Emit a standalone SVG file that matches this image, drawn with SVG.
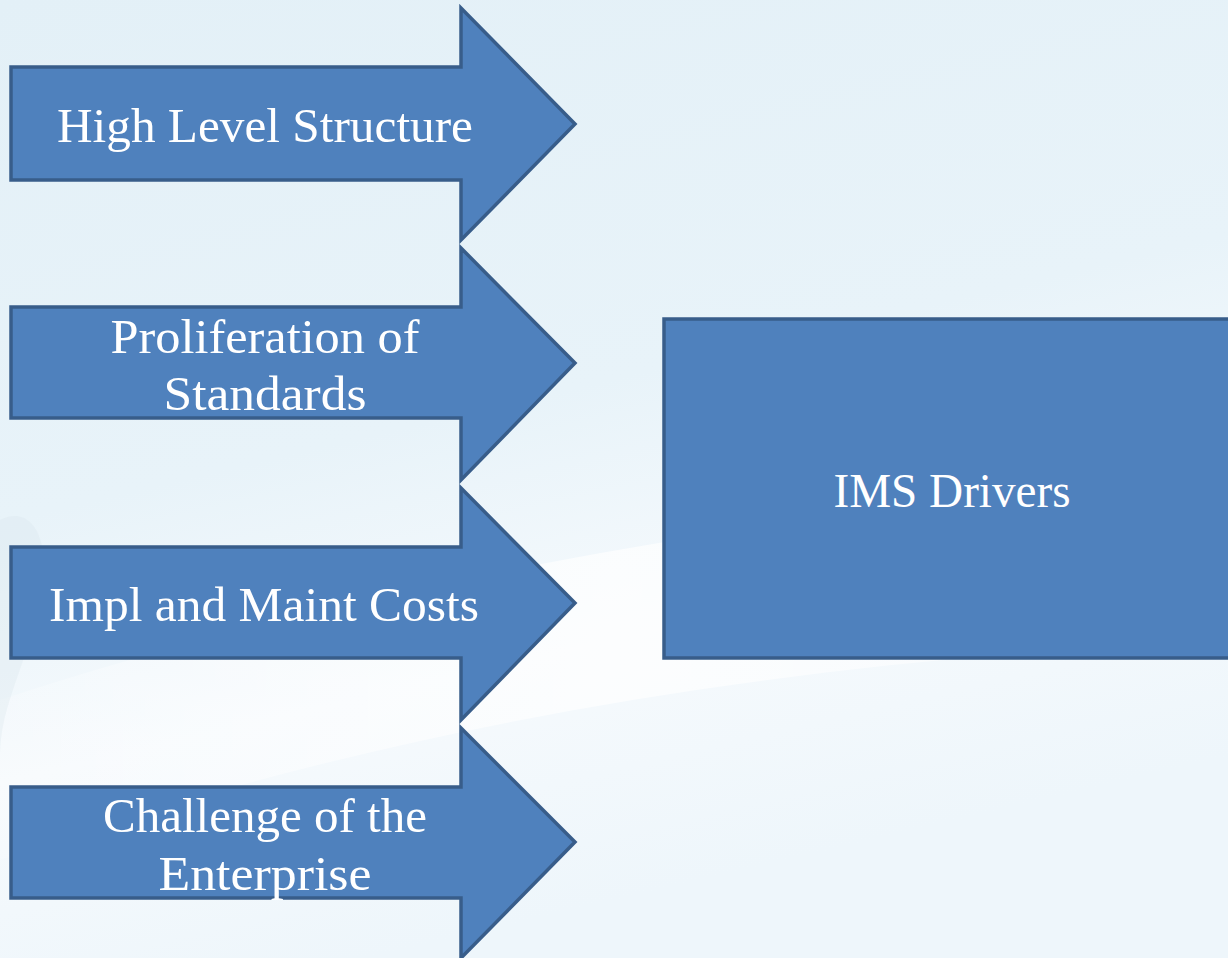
<svg xmlns="http://www.w3.org/2000/svg" width="1228" height="958" viewBox="0 0 1228 958">
<defs>
<linearGradient id="bg" x1="0" y1="0" x2="0.3" y2="1">
<stop offset="0" stop-color="#E3F0F7"/>
<stop offset="0.5" stop-color="#E8F3F9"/>
<stop offset="0.75" stop-color="#F6FAFD"/>
<stop offset="1" stop-color="#EEF6FB"/>
</linearGradient>
<linearGradient id="sw" x1="0" y1="0" x2="1" y2="0">
<stop offset="0" stop-color="#FFFFFF" stop-opacity="0.2"/>
<stop offset="0.5" stop-color="#FFFFFF" stop-opacity="0.7"/>
<stop offset="1" stop-color="#FFFFFF" stop-opacity="0.3"/>
</linearGradient>
<style>
.shape{fill:#4F81BD;stroke:#385D8A;stroke-width:3.5;stroke-linejoin:miter}
.lbl{font-family:"Liberation Serif","DejaVu Serif",serif;font-size:48px;fill:#FFFFFF;text-anchor:middle}
</style>
</defs>
<rect x="0" y="0" width="1228" height="958" fill="url(#bg)"/>
<path d="M0,700 C300,600 700,520 1228,470 L1228,640 C800,660 400,720 0,860 Z" fill="url(#sw)"/>
<path d="M0,520 C40,500 60,560 30,640 C10,700 0,720 0,760 Z" fill="#D8E4EC" opacity="0.3"/>
<g id="node-high-level">
<polygon class="shape" points="11,67 461,67 461,8 575,124 461,240 461,180 11,180"/>
<text class="lbl" x="265" y="142" textLength="416" lengthAdjust="spacingAndGlyphs">High Level Structure</text>
</g>
<g id="node-proliferation">
<polygon class="shape" points="11,307 461,307 461,248 575,363 461,480 461,418 11,418"/>
<text class="lbl" x="265" y="353" textLength="309" lengthAdjust="spacingAndGlyphs">Proliferation of</text>
<text class="lbl" x="265" y="410" textLength="203" lengthAdjust="spacingAndGlyphs">Standards</text>
</g>
<g id="node-impl">
<polygon class="shape" points="11,547 461,547 461,488 575,603 461,720 461,658 11,658"/>
<text class="lbl" x="264" y="621" textLength="430" lengthAdjust="spacingAndGlyphs">Impl and Maint Costs</text>
</g>
<g id="node-challenge">
<polygon class="shape" points="11,787 461,787 461,728 575,842 461,958 461,898 11,898"/>
<text class="lbl" x="265" y="832" textLength="324" lengthAdjust="spacingAndGlyphs">Challenge of the</text>
<text class="lbl" x="265" y="890" textLength="213" lengthAdjust="spacingAndGlyphs">Enterprise</text>
</g>
<g id="node-ims">
<rect class="shape" x="664" y="319" width="570" height="339"/>
<text class="lbl" x="952" y="507" textLength="237" lengthAdjust="spacingAndGlyphs">IMS Drivers</text>
</g>
<g id="connectors"/>
</svg>
